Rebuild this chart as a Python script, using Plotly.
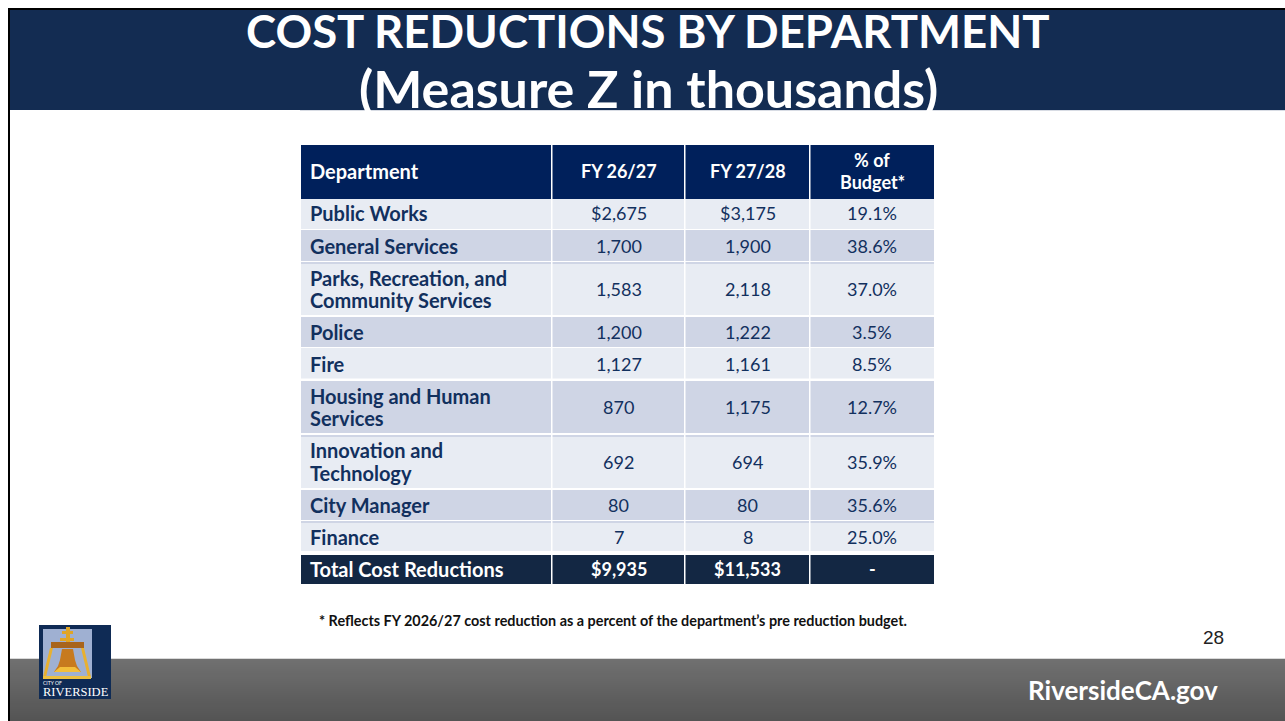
import plotly.graph_objects as go

W, H = 1285, 721
departments = [["Public Works"], ["General Services"], ["Parks, Recreation, and", "Community Services"], ["Police"], ["Fire"],
               ["Housing and Human", "Services"], ["Innovation and", "Technology"], ["City Manager"], ["Finance"],
               ["Total Cost Reductions"]]
fy2627 = ["$2,675", "1,700", "1,583", "1,200", "1,127", "870", "692", "80", "7", "$9,935"]
fy2728 = ["$3,175", "1,900", "2,118", "1,222", "1,161", "1,175", "694", "80", "8", "$11,533"]
pct_budget = ["19.1%", "38.6%", "37.0%", "3.5%", "8.5%", "12.7%", "35.9%", "35.6%", "25.0%", "-"]
headers = [["Department"], ["FY 26/27"], ["FY 27/28"], ["% of", "Budget*"]]
title_lines = ["COST REDUCTIONS BY DEPARTMENT", "(Measure Z in thousands)"]
footnote = "* Reflects FY 2026/27 cost reduction as a percent of the department’s pre reduction budget."

# layout of the table, in page pixels
COL_EDGES = [301, 552, 685, 810, 934]
HEADER_SPAN = (145, 199)
ROW_SPANS = [(199, 230), (231, 262), (264, 316), (318, 348), (349, 380), (382, 434), (436, 489), (491, 521), (522, 553), (555, 584)]
BAND_SPANS = [(199, 229), (230, 261), (262, 315), (317, 347), (348, 378.5), (381, 433), (435, 488), (490, 520), (521, 551), (555, 584)]
DARK_STRIPS = [(262, 264), (435, 437), (521, 523)]
LINE_H = 22

FONT = "Lato"
NAVY = "#12305E"
LIGHT, DARK = "#E8ECF3", "#CFD5E5"
TOTAL = "#132743"
HEAD = "#00205B"


def px(x):
    return x / W


def py(y):
    return 1 - y / H


def rect(x0, y0, x1, y1, color, layer="below"):
    return dict(type="rect", xref="paper", yref="paper", x0=px(x0), x1=px(x1), y0=py(y0), y1=py(y1),
                fillcolor=color, line_width=0, layer=layer)


def poly(points, color):
    d = "M " + " L ".join(f"{px(a):.5f},{py(b):.5f}" for a, b in points) + " Z"
    return dict(type="path", xref="paper", yref="paper", path=d, fillcolor=color, line_width=0, layer="above")


def note(text, x, y, size, color, anchor="center", family=FONT):
    return dict(text=text, x=px(x), y=py(y), xref="paper", yref="paper", showarrow=False, borderpad=0,
                xanchor=anchor, yanchor="middle", font=dict(family=family, size=size, color=color))


shapes = [rect(8, 8, W, 10, "#000000"), rect(8, 8, 10, H, "#000000"), rect(10, 10, W, 110, "#132C52"),
          rect(300, 110, W, 111, "#D8DCE4")]
top, bottom = (112, 112, 112), (84, 84, 84)
steps = 31
for i in range(steps):
    c = [round(a + (b - a) * i / (steps - 1)) for a, b in zip(top, bottom)]
    shapes.append(rect(10, 659 + i * 2, W, 661 + i * 2, f"rgb({c[0]},{c[1]},{c[2]})"))
shapes.append(rect(10, 658, W, 659, "#D9D9D9"))

# table bands
shapes.append(rect(COL_EDGES[0], HEADER_SPAN[0], COL_EDGES[-1], HEADER_SPAN[1], HEAD))
for i, (y0, y1) in enumerate(BAND_SPANS):
    color = TOTAL if i == len(BAND_SPANS) - 1 else (LIGHT if i % 2 == 0 else DARK)
    shapes.append(rect(COL_EDGES[0], y0, COL_EDGES[-1], y1, color))
for y0, y1 in DARK_STRIPS:
    shapes.append(rect(COL_EDGES[0], y0, COL_EDGES[-1], y1, DARK))
for x in COL_EDGES[1:-1]:
    shapes.append(rect(x - 1, HEADER_SPAN[0], x + 0.5, ROW_SPANS[-1][1], "white"))

annotations = []
col_mid = [(COL_EDGES[i] + COL_EDGES[i + 1]) / 2 for i in range(4)]
LEFT_X = 309
TEXT_NUDGE = -1


def cell_lines(lines, yc, col, size, color, bold):
    out = []
    start = yc + TEXT_NUDGE - (len(lines) - 1) * LINE_H / 2
    for k, s in enumerate(lines):
        t = f"<b>{s}</b>" if bold else s
        if col == 0:
            out.append(note(t, LEFT_X, start + k * LINE_H, size, color, "left"))
        else:
            out.append(note(t, col_mid[col], start + k * LINE_H, size, color))
    return out


hy = sum(HEADER_SPAN) / 2
for c, h in enumerate(headers):
    annotations += cell_lines(h, hy, c, 20 if c == 0 else 18, "white", True)
for i, (y0, y1) in enumerate(ROW_SPANS):
    yc = (y0 + y1) / 2
    is_total = i == len(ROW_SPANS) - 1
    col = "white" if is_total else NAVY
    annotations += cell_lines(departments[i], yc, 0, 20, col, True)
    for c, arr in zip((1, 2, 3), (fy2627, fy2728, pct_budget)):
        annotations += cell_lines([arr[i]], yc, c, 18, col, is_total)

annotations += [
    note(f"<b>{footnote}</b>", 318, 620, 14.4, "#111111", "left"),
    note("28", 1225, 637, 19, "#222222", "right", "Liberation Sans"),
    note("<b>RiversideCA.gov</b>", 1219, 690, 26, "white", "right"),
    note("CITY OF", 42, 683, 5, "white", "left"),
    note("RIVERSIDE", 75.5, 692, 12.5, "white", "center", "Liberation Serif"),
]
for line, yc, size in zip(title_lines, (31, 88), (45.5, 52)):
    annotations.append(note(f"<b>{line}</b>", 648, yc, size, "white"))

# City logo
shapes += [
    rect(39, 625, 111, 699, "#0F2B55", "above"),
    rect(43, 629, 92, 678, "#9FB0D2", "above"),
    rect(66, 627, 70, 648, "#E0A526", "above"),
    rect(62, 631, 73, 634, "#E0A526", "above"),
    rect(60, 638, 74, 641, "#E0A526", "above"),
    rect(51, 642, 84, 648, "#A8641C", "above"),
    poly([(50, 648), (53, 648), (46, 677), (43, 677)], "#E8B030"),
    poly([(81, 648), (84, 648), (91, 677), (88, 677)], "#E8B030"),
    rect(43, 676, 91, 679, "#EDC040", "above"),
    poly([(62, 649), (73, 649), (75, 660), (77, 666), (81, 672), (54, 672), (58, 666), (60, 660)], "#C77A1E"),
    poly([(54, 672), (60, 667), (75, 667), (81, 672)], "#F3BE3A"),
]

fig = go.Figure()
fig.update_layout(width=W, height=H, margin=dict(l=0, r=0, t=0, b=0), paper_bgcolor="white",
                  plot_bgcolor="rgba(0,0,0,0)", xaxis=dict(visible=False), yaxis=dict(visible=False),
                  shapes=shapes, annotations=annotations, showlegend=False)
fig.write_html("out.html", config=dict(displayModeBar=False),
               post_script="document.body.style.margin='0';document.documentElement.style.overflow='hidden';")
